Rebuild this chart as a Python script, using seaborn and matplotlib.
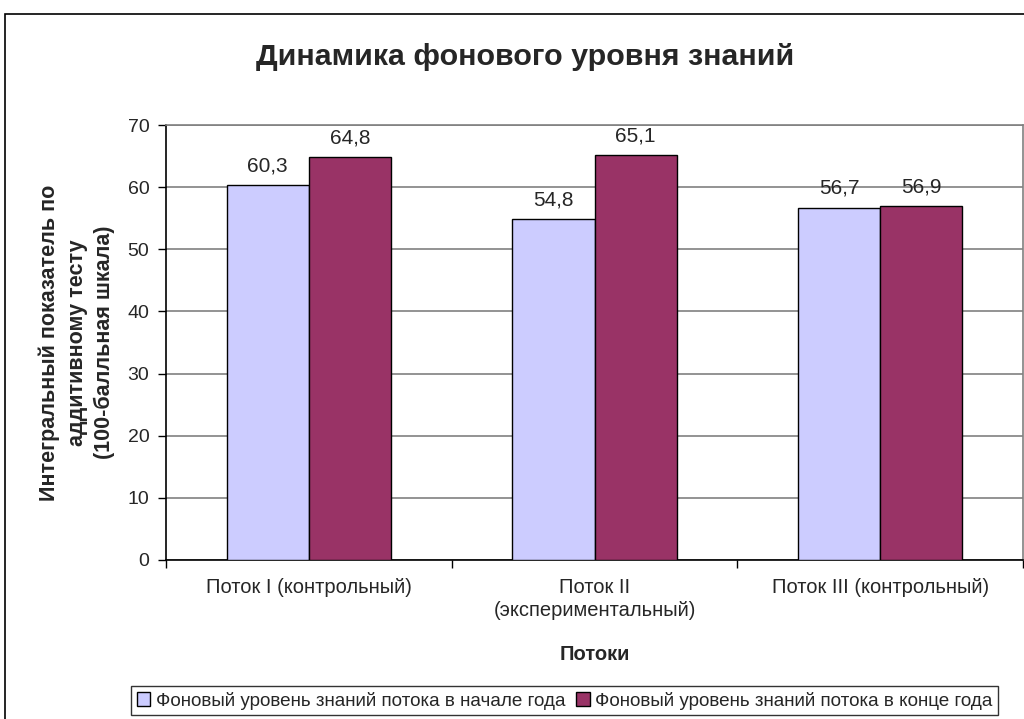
import matplotlib
matplotlib.use("Agg")
import matplotlib.pyplot as plt
import seaborn as sns
import pandas as pd
from matplotlib.patches import Rectangle
from matplotlib.ticker import FixedLocator, NullFormatter

categories = ["Поток I (контрольный)", "Поток II\n(экспериментальный)", "Поток III (контрольный)"]
series_names = ["Фоновый уровень знаний потока в начале года",
                "Фоновый уровень знаний потока в конце года"]
start_values = [60.3, 54.8, 56.7]
end_values = [64.8, 65.1, 56.9]
yticks = [0, 10, 20, 30, 40, 50, 60, 70]

df = pd.DataFrame({
    "cat": categories * 2,
    "series": [series_names[0]] * 3 + [series_names[1]] * 3,
    "value": start_values + end_values,
})

sns.set_theme(style="white")
plt.rcParams['font.family'] = ['Liberation Sans', 'DejaVu Sans']

fig = plt.figure(figsize=(10.24, 7.19), dpi=100)
fig.patch.set_facecolor("white")
fig.patches.append(Rectangle((5 / 1024, -0.1), 1.2, 1 - 14 / 719 + 0.1,
                             transform=fig.transFigure, fill=False,
                             edgecolor="black", linewidth=1.2, zorder=0))

ax = fig.add_axes([166 / 1024, 1 - 560 / 719, (1023 - 166) / 1024, (560 - 125) / 719])
sns.barplot(data=df, x="cat", y="value", hue="series", order=categories,
            hue_order=series_names, palette=["#CCCCFF", "#993366"],
            width=0.575, edgecolor="black", linewidth=1.0, saturation=1,
            ax=ax, legend=True, zorder=3)

ax.set_ylim(0, 70)
ax.set_xlim(-0.5, 2.5)
ax.set_yticks(yticks)
ax.set_yticklabels([str(v) for v in yticks], fontsize=14)
ax.yaxis.grid(True, color="#808080", linewidth=1.2, zorder=0)
ax.set_axisbelow(True)

ax.xaxis.set_major_locator(FixedLocator([-0.5, 0.5, 1.5, 2.5]))
ax.xaxis.set_major_formatter(NullFormatter())
ax.xaxis.set_minor_locator(FixedLocator([0, 1, 2]))
ax.set_xticklabels(categories, minor=True, fontsize=14.5, linespacing=1.25)
ax.tick_params(axis="x", which="major", length=6, width=1, color="black", direction="out", bottom=True)
ax.tick_params(axis="x", which="minor", length=0, pad=13)
ax.tick_params(axis="y", length=6, width=1, color="black", direction="out", left=True, pad=6)

for s in ["left", "bottom"]:
    ax.spines[s].set_color("black")
    ax.spines[s].set_linewidth(1.2)
for s in ["top", "right"]:
    ax.spines[s].set_color("#808080")
    ax.spines[s].set_linewidth(1.2)

for cont in ax.containers:
    labels = [f"{v:.1f}".replace(".", ",") for v in cont.datavalues]
    ax.bar_label(cont, labels=labels, padding=7, fontsize=15)

ax.set_xlabel("Потоки", fontsize=14.5, fontweight="bold", labelpad=18)
ax.set_ylabel("Интегральный показатель по\nаддитивному тесту\n(100-балльная шкала)",
              fontsize=15.5, fontweight="bold", labelpad=9, linespacing=1.38)

fig.text(525 / 1024, 1 - 57 / 719, "Динамика фонового уровня знаний",
         ha="center", va="center", fontsize=21.9, fontweight="bold")

handles, lbls = ax.get_legend_handles_labels()
ax.get_legend().remove()
leg = fig.legend(handles, lbls, loc="upper left", bbox_to_anchor=(131 / 1024, 1 - 686 / 719),
                 ncol=2, frameon=True, fontsize=13.6, handlelength=0.7, handleheight=0.7,
                 handletextpad=0.3, columnspacing=0.6, borderpad=0.3, fancybox=False,
                 borderaxespad=0)
leg.get_frame().set_edgecolor("black")
leg.get_frame().set_linewidth(1.0)

fig.savefig("out.png", dpi=100)
